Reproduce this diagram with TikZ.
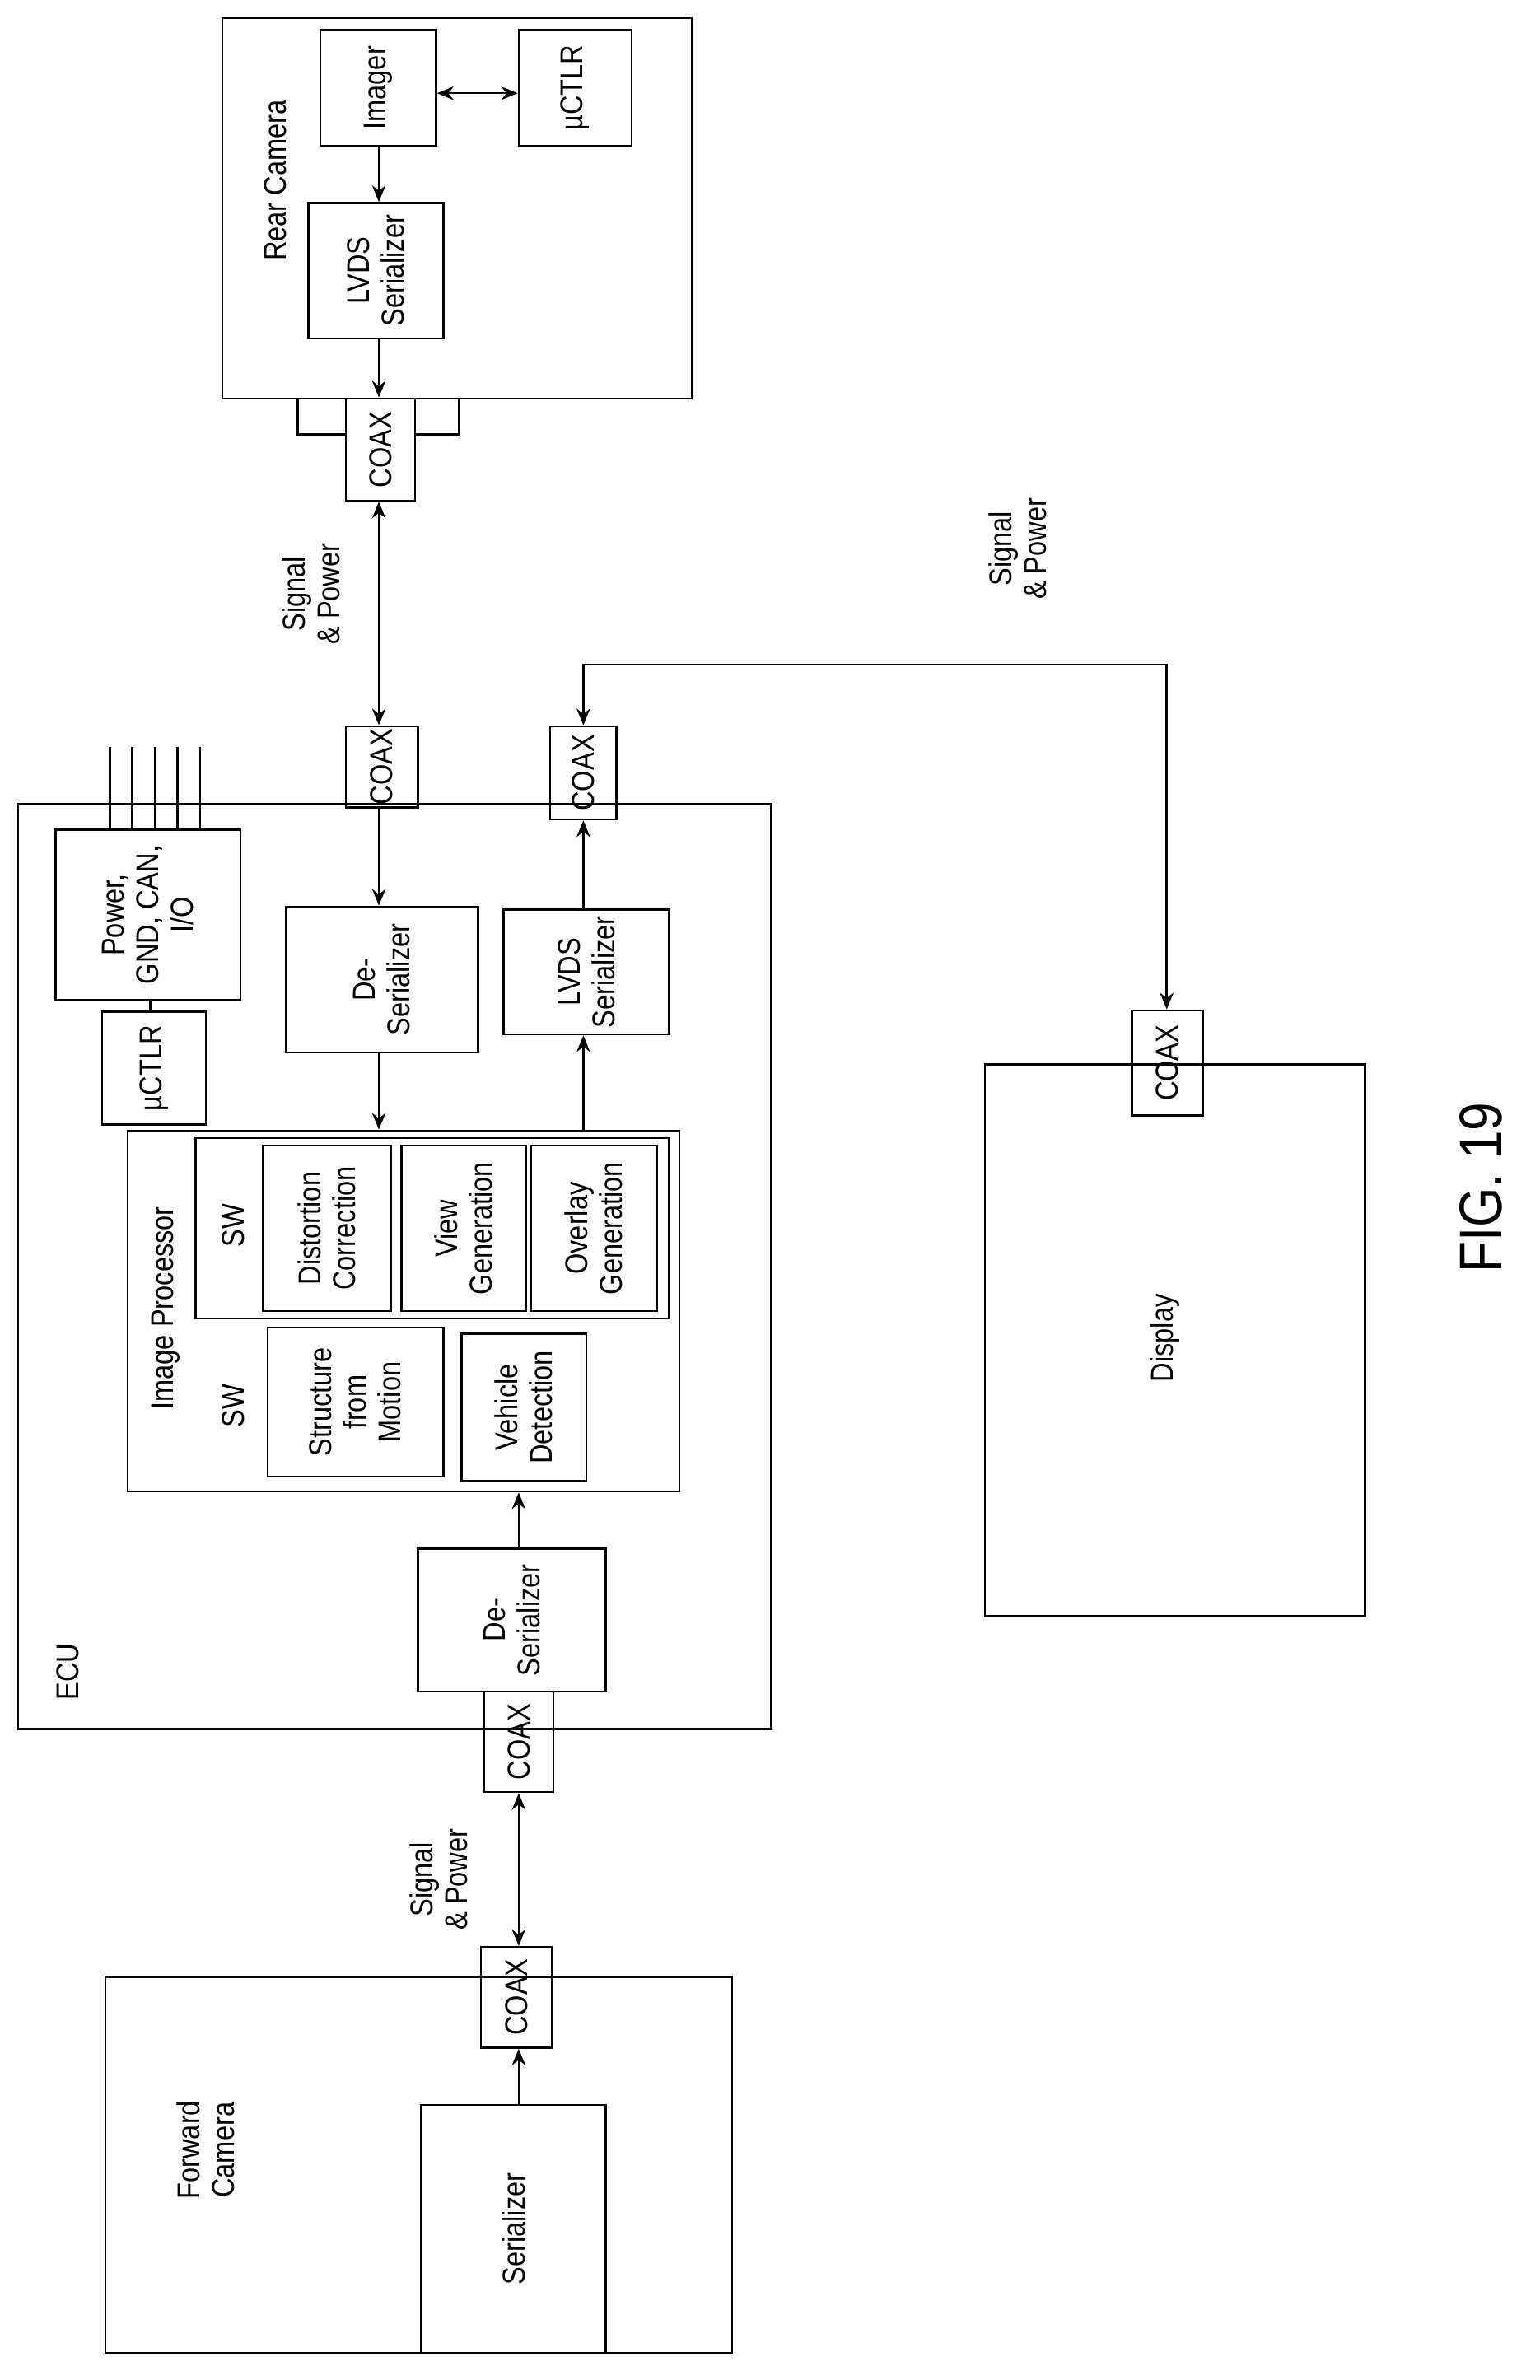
\documentclass[tikz,border=0pt]{standalone}
\usepackage{fontspec}
\setmainfont{Liberation Sans}[FakeStretch=0.85]
\usetikzlibrary{fit,arrows.meta}
\begin{document}
\begin{tikzpicture}[x=1pt,y=-1pt,line width=1.4pt,
  box/.style={draw,inner sep=0pt,rectangle},
  txt/.style={rotate=90,align=center,font=\fontsize{21}{23}\selectfont,inner sep=0pt},
  arr/.style={-{Stealth[length=11pt,width=9pt]}},
  darr/.style={{Stealth[length=11pt,width=9pt]}-{Stealth[length=11pt,width=9pt]}}]
\newcommand\bx[6]{\node[box,fit={(#2,#3)(#4,#5)}] (#1) {};\node[txt] at (#1) {#6};}
\useasboundingbox (0,0) rectangle (1024,1583);
% Rear camera
\node[box,fit={(148,12)(460,265)}] (rear) {};
\node[txt] at (183,120) {Rear Camera};
\bx{imager}{213}{20}{290}{97}{Imager}
\bx{uc1}{345}{20}{420}{97}{\textmu CTLR}
\bx{ser1}{205}{135}{295}{225}{LVDS\\Serializer}
\bx{coax1}{230}{265}{276}{333}{COAX}
\draw (198,265) -- (198,289) -- (coax1.west |- 0,289);
\draw (305,265) -- (305,289) -- (coax1.east |- 0,289);
\draw[darr] (imager.east |- 0,62) -- (uc1.west |- 0,62);
\draw[arr] (imager.south -| 252,0) -- (ser1.north -| 252,0);
\draw[arr] (ser1.south -| 252,0) -- (coax1.north -| 252,0);
% ECU
\node[box,fit={(12,535)(513,1150)}] (ecu) {};
\node[txt] at (45,1112) {ECU};
\bx{coax2}{230}{483}{278}{537}{COAX}
\bx{coax3}{366}{483}{410}{545}{COAX}
\draw[darr] (coax1.south -| 252,0) -- (coax2.north -| 252,0);
\node[txt] at (207,395) {Signal\\\& Power};
\bx{pwr}{37}{552}{160}{665}{Power,\\GND, CAN,\\I/O}
\foreach \x in {73,88,103,118,133} \draw (\x,497) -- (pwr.north -| \x,0);
\bx{uc2}{68}{673}{137}{748}{\textmu CTLR}
\draw (pwr.south -| 100,0) -- (uc2.north -| 100,0);
\bx{deser1}{190}{603}{318}{700}{De-\\Serializer}
\bx{ser2}{335}{605}{445}{688}{LVDS\\Serializer}
\draw[arr] (coax2.south -| 252,0) -- (deser1.north -| 252,0);
\draw[arr] (ser2.north -| 388,0) -- (coax3.south -| 388,0);
% Image processor
\node[box,fit={(85,752)(452,992)}] (ip) {};
\node[txt] at (110,870) {Image Processor};
\draw[arr] (deser1.south -| 252,0) -- (ip.north -| 252,0);
\draw[arr] (ip.north -| 388,0) -- (ser2.south -| 388,0);
\node[box,fit={(130,757)(445,877)}] (sw1) {};
\node[txt] at (155,815) {SW};
\bx{dist}{175}{762}{260}{872}{Distortion\\Correction}
\bx{view}{267}{762}{350}{872}{View\\Generation}
\bx{ovl}{353}{762}{437}{872}{Overlay\\Generation}
\node[txt] at (155,935) {SW};
\bx{sfm}{178}{883}{295}{982}{Structure\\from\\Motion}
\bx{veh}{307}{887}{390}{985}{Vehicle\\Detection}
\bx{deser2}{278}{1030}{403}{1125}{De-\\Serializer}
\draw[arr] (deser2.north -| 345,0) -- (ip.south -| 345,0);
\bx{coax4}{322}{1125}{368}{1192}{COAX}
% Forward camera
\node[box,fit={(70,1315)(487,1565)}] (fwd) {};
\node[txt] at (137,1430) {Forward\\Camera};
\bx{coax5}{320}{1295}{367}{1362}{COAX}
\bx{ser3}{280}{1400}{403}{1565}{Serializer}
\draw[arr] (ser3.north -| 345,0) -- (coax5.south -| 345,0);
\draw[darr] (coax4.south -| 345,0) -- (coax5.north -| 345,0);
\node[txt] at (292,1250) {Signal\\\& Power};
% Display
\node[box,fit={(655,708)(908,1075)}] (disp) {};
\node[txt] at (775,890) {Display};
\bx{coax6}{753}{672}{800}{742}{COAX}
\draw[darr] (coax3.north -| 388,0) -- (388,442) -- (776,442) -- (coax6.north -| 776,0);
\node[txt] at (677,365) {Signal\\\& Power};
\node[rotate=90,font=\fontsize{40}{44}\selectfont,inner sep=0pt] at (985,790) {FIG. 19};
\end{tikzpicture}
\end{document}
